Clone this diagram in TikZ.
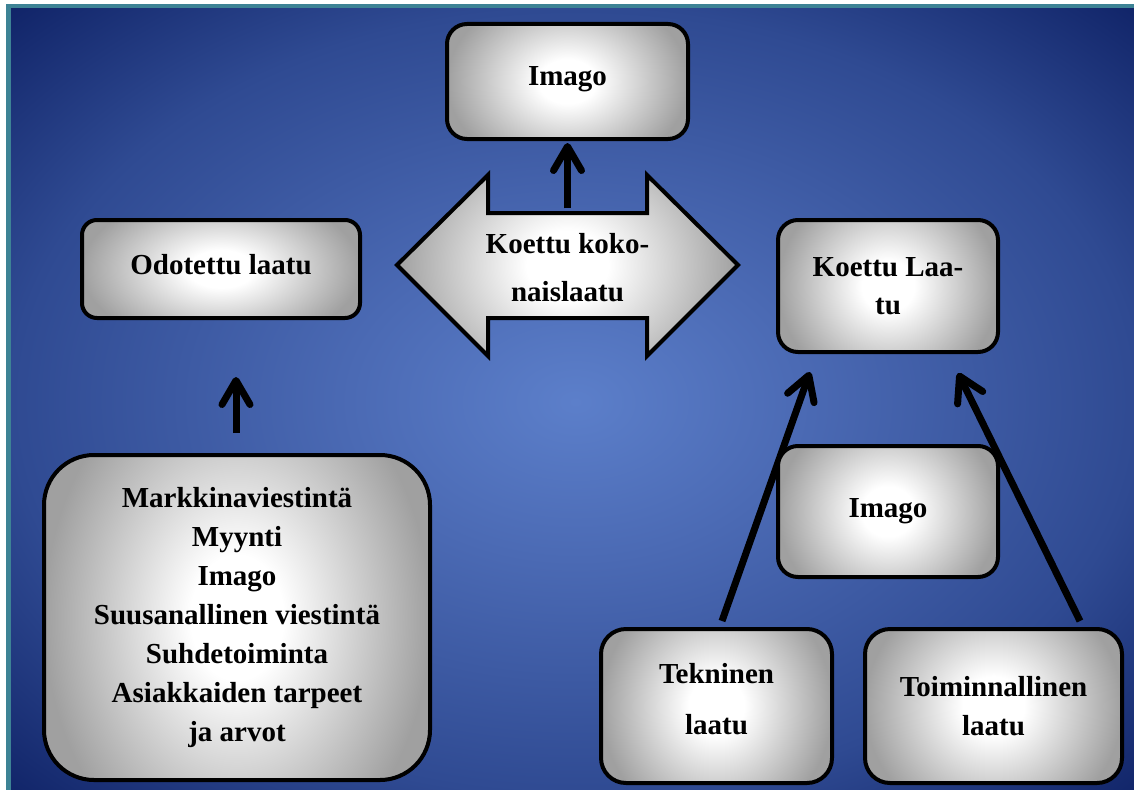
\documentclass[tikz,border=0pt]{standalone}
\usepackage{fontspec}
\setmainfont{Liberation Serif}
\usetikzlibrary{arrows.meta,calc}
\definecolor{tealb}{HTML}{3D8395}
\definecolor{bgA}{HTML}{5C7FCA}
\definecolor{bgB}{HTML}{4B6AB4}
\definecolor{bgC}{HTML}{2F4A92}
\definecolor{bgD}{HTML}{0F2266}
\definecolor{boxedge}{HTML}{A0A0A0}
\pgfdeclareradialshading{bgshade}{\pgfpoint{0bp}{0bp}}{color(0bp)=(bgA); color(10bp)=(bgB); color(25bp)=(bgC); color(36bp)=(bgD); color(50bp)=(bgD)}
\pgfdeclareradialshading{boxr}{\pgfpoint{0bp}{0bp}}{color(0bp)=(white); color(6bp)=(white); color(25bp)=(boxedge); color(50bp)=(boxedge)}
\begin{document}
\begin{tikzpicture}[x=1pt,y=-1pt,
  shadebox/.style={path picture={\shade[shading=boxr]
    ($(path picture bounding box.south west)!-0.3!(path picture bounding box.north west)$) rectangle
    ($(path picture bounding box.north east)!-0.3!(path picture bounding box.south east)$);}},
  box/.style={draw=black, line width=4pt, shadebox, align=center, inner sep=0pt,
    font=\bfseries\fontsize{29}{39}\selectfont},
  conn/.style={line width=7pt, -{Straight Barb[length=24pt,width=28pt,round]}}]
\useasboundingbox (0,0) rectangle (1134,789);
\fill[white] (0,0) rectangle (1134,789);
\fill[tealb] (6,4) rectangle (1140,795);
\shade[shading=bgshade] (11,9) rectangle (1140,795);

% double arrow
\draw[line width=4pt, line join=miter, shadebox]
  (397,265) -- (488,175) -- (488,213) -- (647,213) -- (647,175) -- (738,265)
  -- (647,356) -- (647,318) -- (488,318) -- (488,356) -- cycle;
\node[align=center, inner sep=0pt, minimum width=159pt, minimum height=105pt,
  font=\bfseries\fontsize{29}{39}\selectfont] (koko) at (567.5,268) {Koettu koko-\\[9pt]naislaatu};

\node[box, rounded corners=20pt, minimum width=241pt, minimum height=115pt, text depth=10pt] (imgT) at (567.5,81.5) {Imago};
\node[box, rounded corners=15pt, minimum width=278pt, minimum height=98pt, text depth=10pt] (odo) at (221,269) {Odotettu laatu};
\node[box, rounded corners=20pt, minimum width=220pt, minimum height=132pt] (kl) at (888,286) {Koettu Laa-\\[-1pt]tu};
\node[box, rounded corners=50pt, minimum width=386pt, minimum height=325pt] (big) at (237,617.5)
  {Markkinaviestintä\\Myynti\\Imago\\Suusanallinen viestintä\\Suhdetoiminta\\Asiakkaiden tarpeet\\ja arvot};
\node[box, rounded corners=25pt, minimum width=231pt, minimum height=154pt, text depth=14pt] (tek) at (716.5,706) {Tekninen\\[12pt]laatu};
\node[box, rounded corners=25pt, minimum width=257pt, minimum height=154pt] (toi) at (993.5,706) {Toiminnallinen\\laatu};

\draw[conn] ($(koko.north)+(0,-7)$) -- ($(imgT.south)+(0,2)$);
\draw[conn] ($(big.north)+(-1,-20)$) -- ($(big.north |- odo.south)+(-1,57)$);
\draw[conn] ($(tek.north)+(5.5,-6)$) -- ($(kl.south)+(-78,18)$);
\draw[conn] ($(toi.north)+(86.5,-6)$) -- ($(kl.south)+(70,19)$);

\node[box, rounded corners=20pt, minimum width=220pt, minimum height=131pt] (imgR) at (888,511.5) {Imago};
\end{tikzpicture}
\end{document}
